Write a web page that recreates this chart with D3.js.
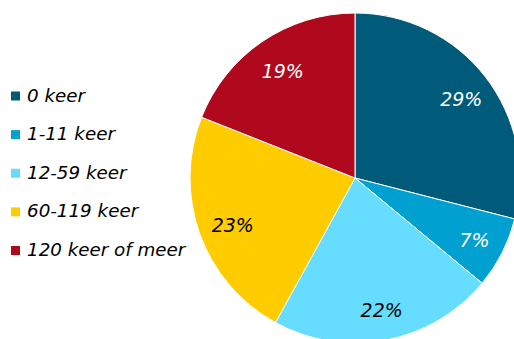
<!DOCTYPE html>
<html>
<head>
<meta charset="utf-8">
<script src="https://cdn.jsdelivr.net/npm/d3@7"></script>
<style>
  html, body { margin: 0; padding: 0; background: #fff; }
  svg { display: block; }
  text { font-family: "DejaVu Sans", Verdana, sans-serif; font-style: italic; }
</style>
</head>
<body>
<svg id="chart" width="514" height="339"></svg>
<script>
// Categories, shares (percent) and slice colours
const categories = ["0 keer", "1-11 keer", "12-59 keer", "60-119 keer", "120 keer of meer"];
const shares = [29, 7, 22, 23, 19];
const colors = ["#005b7a", "#00a0d1", "#66dcff", "#ffcc00", "#b0091e"];
const labelColors = ["#ffffff", "#ffffff", "#000000", "#000000", "#ffffff"];

const svg = d3.select("#chart");
const cx = 355, cy = 178, R = 165;

const pie = d3.pie().sort(null).value(d => d);
const arcs = pie(shares);
const arc = d3.arc().innerRadius(0).outerRadius(R);
const labelArc = d3.arc().innerRadius(R * 0.8).outerRadius(R * 0.8);

const g = svg.append("g").attr("transform", `translate(${cx},${cy})`);

g.selectAll("path.slice")
  .data(arcs)
  .join("path")
  .attr("class", "slice")
  .attr("d", arc)
  .attr("fill", (d, i) => colors[i])
  .attr("stroke", "#fff")
  .attr("stroke-width", 1);

g.selectAll("text.pct")
  .data(arcs)
  .join("text")
  .attr("class", "pct")
  .attr("transform", d => {
    const [x, y] = labelArc.centroid(d);
    return `translate(${x + 2},${y + 2})`;
  })
  .attr("text-anchor", "middle")
  .attr("dominant-baseline", "central")
  .attr("font-size", 19)
  .attr("fill", (d, i) => labelColors[i])
  .text(d => d.data + "%");

// Legend
const legend = svg.append("g").attr("transform", "translate(11,96)");
const rowY = d3.scalePoint().domain(categories).range([0, 154.5]);

const rows = legend.selectAll("g.row")
  .data(categories)
  .join("g")
  .attr("class", "row")
  .attr("transform", d => `translate(0,${rowY(d)})`);

rows.append("rect")
  .attr("x", 0).attr("y", -4.5)
  .attr("width", 9).attr("height", 9)
  .attr("fill", (d, i) => colors[i]);

rows.append("text")
  .attr("x", 16)
  .attr("y", -1)
  .attr("dominant-baseline", "central")
  .attr("font-size", 18.3)
  .attr("fill", "#000")
  .text(d => d);
</script>
</body>
</html>
